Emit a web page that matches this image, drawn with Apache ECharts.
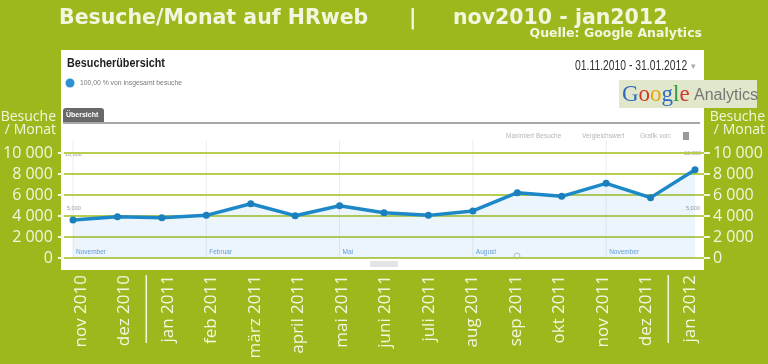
<!DOCTYPE html>
<html>
<head>
<meta charset="utf-8">
<script src="https://cdn.jsdelivr.net/npm/echarts@6/dist/echarts.min.js"></script>
<style>html,body{margin:0;padding:0;background:#9cb81c;}#c{width:768px;height:364px;}</style>
</head>
<body>
<div id="c"></div>
<script>
// ---- data ----
const categories = ['nov 2010','dez 2010','jan 2011','feb 2011','märz 2011','april 2011','mai 2011','juni 2011','juli 2011','aug 2011','sep 2011','okt 2011','nov 2011','dez 2011','jan 2012'];
const visits = [3620, 3940, 3840, 4060, 5170, 4030, 4980, 4300, 4060, 4480, 6220, 5870, 7110, 5750, 8410];
const yMin = 0, yMax = 10000, yStep = 2000;
const gaMonthIdx = [0, 3, 6, 9, 12];
const gaMonthNames = ['November', 'Februar', 'Mai', 'August', 'November'];
const yearSeparatorsAfter = [1, 13];
const titleLeft = 'Besuche/Monat auf HRweb';
const titleRight = 'nov2010 - jan2012';
const sourceText = 'Quelle: Google Analytics';
const axisName = 'Besuche\n/ Monat';

// ---- styles ----
const BG = '#9cb81c', CREAM = '#f3f6df', GRID = '#b9cd50';
const fmt = v => v === 0 ? '0' : (v / 1000) + ' 000';

const chart = echarts.init(document.getElementById('c'), null, {renderer: 'canvas'});
const T = 153, B = 106;
const yAxisBase = {type: 'value', min: yMin, max: yMax, interval: yStep};
const titleFont = {fontFamily: 'DejaVu Sans', fontWeight: 'bold', fontSize: 20.5, color: CREAM};
chart.setOption({
  backgroundColor: BG,
  animation: false,
  title: [
    {text: titleLeft, left: 59, top: 8, padding: 0, textStyle: titleFont},
    {text: '|', left: 409, top: 8, padding: 0, textStyle: titleFont},
    {text: titleRight, left: 453, top: 8, padding: 0, textStyle: titleFont},
    {text: sourceText, right: 66, top: 27, padding: 0, textStyle: {fontFamily: 'DejaVu Sans', fontWeight: 'bold', fontSize: 12.5, color: CREAM}}
  ],
  grid: [
    {left: 61, right: 64, top: T, bottom: B},
    {left: 73, right: 73, top: T, bottom: B},
    {left: 81, right: 78, top: T, bottom: B}
  ],
  xAxis: [
    {type: 'category', gridIndex: 0, data: categories, show: false},
    {type: 'category', gridIndex: 1, data: categories, boundaryGap: false, show: false},
    {type: 'category', gridIndex: 2, data: categories, boundaryGap: false,
      axisLine: {show: false}, axisTick: {show: false},
      axisLabel: {rotate: 90, margin: 17, color: CREAM, fontFamily: 'Open Sans', fontSize: 17, interval: 0}}
  ],
  yAxis: [
    Object.assign({}, yAxisBase, {gridIndex: 0, position: 'left',
      axisLine: {show: false}, axisTick: {show: true, length: 6, lineStyle: {color: CREAM, width: 2}},
      axisLabel: {color: CREAM, fontFamily: 'Open Sans', fontSize: 16, margin: 11, formatter: fmt},
      splitLine: {show: true, lineStyle: {color: GRID, width: 2}}}),
    Object.assign({}, yAxisBase, {gridIndex: 0, position: 'right',
      axisLine: {show: false}, axisTick: {show: true, length: 6, lineStyle: {color: CREAM, width: 2}},
      axisLabel: {color: CREAM, fontFamily: 'Open Sans', fontSize: 16, margin: 9, formatter: fmt},
      splitLine: {show: false}}),
    Object.assign({}, yAxisBase, {gridIndex: 1, show: false}),
    Object.assign({}, yAxisBase, {gridIndex: 2, show: false})
  ],
  series: [{
    type: 'line', xAxisIndex: 1, yAxisIndex: 2, data: visits,
    symbol: 'circle', symbolSize: 7,
    lineStyle: {color: '#1c88c7', width: 3.5},
    itemStyle: {color: '#1a7fbc'},
    areaStyle: {color: 'rgba(40,140,210,0.12)'}
  }]
});

// ---- decorations (positions derived from axes where they relate to data) ----
const px = i => chart.convertToPixel({gridIndex: 1}, [i, 0]);
const lx = i => chart.convertToPixel({gridIndex: 2}, [i, 0]);
const els = [];
let n = 0;
const add = e => { e.id = 'g' + (n++); els.push(e); };
// white panel
add({type: 'rect', z: -10, shape: {x: 61, y: 50, width: 643, height: 220}, style: {fill: '#ffffff'}});
// GA header
add({type: 'text', z: -5, x: 67, y: 63, scaleX: 0.8, style: {text: 'Besucherübersicht', font: 'bold 13.5px "Liberation Sans"', fill: '#1e1e1e', textVerticalAlign: 'middle'}});
add({type: 'circle', z: -5, shape: {cx: 70, cy: 83, r: 4.5}, style: {fill: '#2c90d2'}});
add({type: 'text', z: -5, x: 80, y: 83, style: {text: '100,00 % von insgesamt besuche', font: '6.8px "Liberation Sans"', fill: '#7a7a7a', textVerticalAlign: 'middle'}});
add({type: 'text', z: -5, x: 575, y: 66, scaleX: 0.74, style: {text: '01.11.2010 - 31.01.2012', font: '14px "Liberation Sans"', fill: '#333', textVerticalAlign: 'middle'}});
add({type: 'text', z: -5, x: 691, y: 67, style: {text: '▾', font: '9px "DejaVu Sans"', fill: '#aaa', textVerticalAlign: 'middle'}});
// Google Analytics logo
add({type: 'rect', z: -4, shape: {x: 619, y: 80, width: 138, height: 28}, style: {fill: '#e0e7ca'}});
add({type: 'text', z: -3, x: 622, y: 95, style: {
  text: '{b|G}{r|o}{y|o}{b|g}{g|l}{r|e}', textVerticalAlign: 'middle',
  rich: {
    b: {fill: '#2f68c0', font: '23px "Liberation Serif"'},
    r: {fill: '#cf3a2a', font: '23px "Liberation Serif"'},
    y: {fill: '#e3a70e', font: '23px "Liberation Serif"'},
    g: {fill: '#2f9a3c', font: '23px "Liberation Serif"'}
  }}});
add({type: 'text', z: -3, x: 694, y: 96, style: {text: 'Analytics', font: '16px "Liberation Sans"', fill: '#767676', textVerticalAlign: 'middle'}});
// tab + rule
add({type: 'rect', z: -5, shape: {x: 63, y: 108, width: 41, height: 14, r: [3, 3, 0, 0]}, style: {fill: '#686868'}});
add({type: 'text', z: -4, x: 66, y: 115, style: {text: 'Übersicht', font: 'bold 7px "Liberation Sans"', fill: '#fff', textVerticalAlign: 'middle'}});
add({type: 'line', z: -5, shape: {x1: 63, y1: 123, x2: 700, y2: 123}, style: {stroke: '#8a8a8a', lineWidth: 1.5}});
add({type: 'text', z: -5, x: 506, y: 136, style: {text: 'Maximiert Besuche', font: '6.5px "Liberation Sans"', fill: '#b5b5b5', textVerticalAlign: 'middle'}});
add({type: 'text', z: -5, x: 582, y: 136, style: {text: 'Vergleichswert', font: '6.5px "Liberation Sans"', fill: '#b5b5b5', textVerticalAlign: 'middle'}});
add({type: 'text', z: -5, x: 640, y: 136, style: {text: 'Grafik von:', font: '6.5px "Liberation Sans"', fill: '#b5b5b5', textVerticalAlign: 'middle'}});
add({type: 'rect', z: -5, shape: {x: 683, y: 132, width: 6, height: 8}, style: {fill: '#9a9a9a'}});
// GA own axis texts
add({type: 'text', z: -5, x: 65, y: 154, style: {text: '10,000', font: '5.5px "Liberation Sans"', fill: '#999', textVerticalAlign: 'middle'}});
add({type: 'text', z: -5, x: 67, y: 208, style: {text: '5,000', font: '5.5px "Liberation Sans"', fill: '#999', textVerticalAlign: 'middle'}});
add({type: 'text', z: -5, x: 684, y: 153, style: {text: '10,000', font: '5.5px "Liberation Sans"', fill: '#999', textVerticalAlign: 'middle'}});
add({type: 'text', z: -5, x: 686, y: 208, style: {text: '5,000', font: '5.5px "Liberation Sans"', fill: '#999', textVerticalAlign: 'middle'}});
// GA month guides
gaMonthIdx.forEach((idx, k) => {
  const p = px(idx);
  add({type: 'line', z: -6, shape: {x1: p[0], y1: 140, x2: p[0], y2: p[1]}, style: {stroke: '#ececec', lineWidth: 1}});
  add({type: 'text', z: -5, x: p[0] + 3, y: p[1] - 6, style: {text: gaMonthNames[k], font: '6.5px "Liberation Sans"', fill: '#6aa0d6', textVerticalAlign: 'middle'}});
});
// GA scrollbar + icon
add({type: 'rect', z: -5, shape: {x: 370, y: 261, width: 28, height: 6}, style: {fill: '#e4e4e4'}});
add({type: 'circle', z: -5, shape: {cx: 517, cy: 256, r: 3}, style: {fill: 'none', stroke: '#c4c4c4', lineWidth: 1}});
// axis names
add({type: 'text', x: 56, y: 124, style: {text: axisName, font: '14px "Open Sans"', fill: CREAM, textAlign: 'right', textVerticalAlign: 'middle', lineHeight: 13}});
add({type: 'text', x: 765, y: 124, style: {text: axisName, font: '14px "Open Sans"', fill: CREAM, textAlign: 'right', textVerticalAlign: 'middle', lineHeight: 13}});
// year separators between x labels
yearSeparatorsAfter.forEach(i => {
  const a = lx(i), b = lx(i + 1);
  const x = (a[0] + b[0]) / 2;
  add({type: 'line', shape: {x1: x, y1: a[1] + 17, x2: x, y2: a[1] + 85}, style: {stroke: CREAM, lineWidth: 1.5}});
});
chart.setOption({graphic: {elements: els}});
</script>
</body>
</html>
